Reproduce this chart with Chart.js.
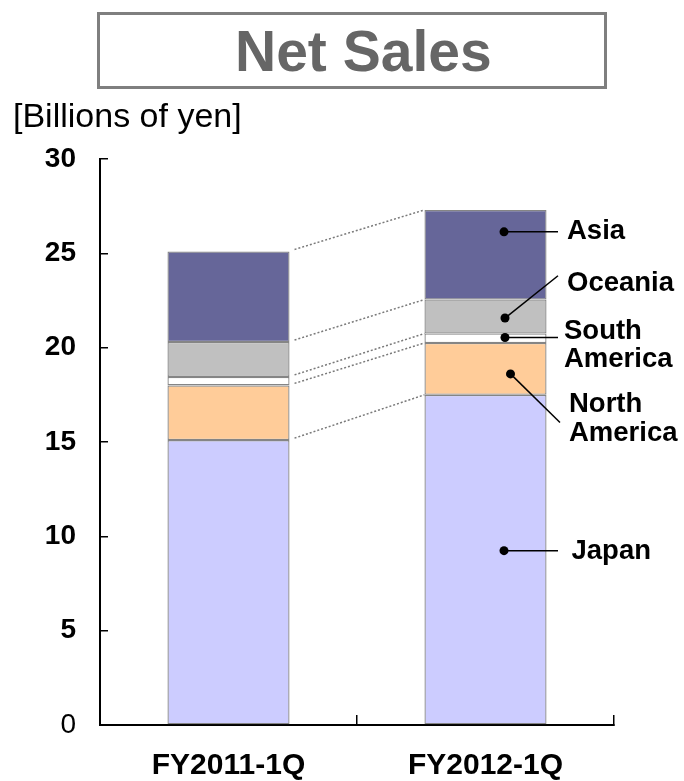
<!DOCTYPE html>
<html>
<head>
<meta charset="utf-8">
<title>Net Sales</title>
<script src="https://cdn.jsdelivr.net/npm/chart.js@4.4.1/dist/chart.umd.min.js"></script>
<style>
  html, body { margin: 0; padding: 0; background: #fff; }
  #wrap { position: relative; width: 684px; height: 781px; }
</style>
</head>
<body>
<div id="wrap"><canvas id="salesChart" width="684" height="781"></canvas></div>
<script>
// Net sales by region, billions of yen
const periods = ['FY2011-1Q', 'FY2012-1Q'];
const regions = ['Japan', 'North America', 'South America', 'Oceania', 'Asia'];
const japan = [15.1, 17.5];
const northAmerica = [2.9, 2.75];
const southAmerica = [0.45, 0.5];
const oceania = [1.85, 1.8];
const asia = [4.8, 4.75];

const FONT = '"Liberation Sans", Arial, Helvetica, sans-serif';
const colors = ['#CCCCFF', '#FFCC99', '#FFFFFF', '#C0C0C0', '#666699'];

// callouts next to the second bar: dot/end x are offsets from the bar centre,
// dot/end y are values on the axis, textDy is the first line offset in px
const callouts = [
  { lines: ['Asia'],              dot: [18.5, 26.14], end: [72.5, 26.14], textDx: 81.5, textDy: 0 },
  { lines: ['Oceania'],           dot: [19.5, 21.57], end: [72.5, 23.81], textDx: 81.5, textDy: 8 },
  { lines: ['South', 'America'],  dot: [19.5, 20.54], end: [72.5, 20.54], textDx: 78.5, textDy: -6 },
  { lines: ['North', 'America'],  dot: [25, 18.61],   end: [74.5, 16.03], textDx: 83.5, textDy: -17.7 },
  { lines: ['Japan'],             dot: [18.5, 9.24],  end: [72.5, 9.24],  textDx: 86,   textDy: 1 }
];

const seriesValues = [japan, northAmerica, southAmerica, oceania, asia];

const datasets = regions.map((name, i) => ({
  label: name,
  data: seriesValues[i],
  backgroundColor: colors[i],
  borderColor: '#858585',
  borderWidth: 1.3,
  borderSkipped: false,
  barPercentage: 0.475,
  categoryPercentage: 1
}));

// white page, boxed title and unit caption
const headerPlugin = {
  id: 'header',
  beforeDraw(chart) {
    const ctx = chart.ctx;
    ctx.save();
    ctx.fillStyle = '#fff';
    ctx.fillRect(0, 0, chart.width, chart.height);

    ctx.strokeStyle = '#7f7f7f';
    ctx.lineWidth = 3;
    ctx.strokeRect(98.5, 13.5, 507, 74);

    ctx.fillStyle = '#666666';
    ctx.font = 'bold 57px ' + FONT;
    ctx.textAlign = 'left';
    ctx.textBaseline = 'alphabetic';
    ctx.fillText('Net Sales', 235, 71);

    ctx.fillStyle = '#000';
    ctx.font = '34px ' + FONT;
    ctx.fillText('[Billions of yen]', 13, 127);
    ctx.restore();
  }
};

// dotted lines joining the segment tops of the two bars
const connectorPlugin = {
  id: 'connectors',
  afterDatasetsDraw(chart) {
    const ctx = chart.ctx;
    ctx.save();
    ctx.strokeStyle = '#7a7a7a';
    ctx.lineWidth = 1.5;
    ctx.setLineDash([2, 2]);
    chart.data.datasets.forEach((ds, i) => {
      const bars = chart.getDatasetMeta(i).data;
      const a = bars[0], b = bars[1];
      ctx.beginPath();
      ctx.moveTo(a.x + a.width / 2 + 5, a.y - 2);
      ctx.lineTo(b.x - b.width / 2, b.y);
      ctx.stroke();
    });
    ctx.restore();
  }
};

// region names with leader lines and dots
const calloutPlugin = {
  id: 'callouts',
  afterDatasetsDraw(chart) {
    const ctx = chart.ctx;
    const yScale = chart.scales.y;
    const cx = chart.getDatasetMeta(0).data[1].x;
    ctx.save();
    callouts.forEach(c => {
      const dx = cx + c.dot[0], dy = yScale.getPixelForValue(c.dot[1]);
      const ex = cx + c.end[0], ey = yScale.getPixelForValue(c.end[1]);
      ctx.strokeStyle = '#000';
      ctx.lineWidth = 1.5;
      ctx.beginPath();
      ctx.moveTo(dx, dy);
      ctx.lineTo(ex, ey);
      ctx.stroke();
      ctx.fillStyle = '#000';
      ctx.beginPath();
      ctx.arc(dx, dy, 4.5, 0, Math.PI * 2);
      ctx.fill();

      ctx.font = 'bold 27.5px ' + FONT;
      ctx.textAlign = 'left';
      ctx.textBaseline = 'middle';
      c.lines.forEach((line, k) => {
        ctx.fillText(line, cx + c.textDx, ey + c.textDy + k * 28.2);
      });
    });
    ctx.restore();
  }
};

new Chart(document.getElementById('salesChart'), {
  type: 'bar',
  data: { labels: periods, datasets: datasets },
  options: {
    responsive: false,
    devicePixelRatio: 1,
    animation: false,
    layout: { padding: { top: 159, right: 70, bottom: 0, left: 0 } },
    plugins: {
      legend: { display: false },
      tooltip: { enabled: false },
      title: { display: false }
    },
    scales: {
      x: {
        stacked: true,
        afterFit(scale) { scale.height = 56; },
        border: { display: true, color: '#000', width: 2 },
        grid: {
          offset: true,
          drawOnChartArea: false,
          drawTicks: true,
          tickLength: -10,
          color: '#000',
          lineWidth: 1.5
        },
        ticks: {
          color: '#000',
          padding: 33,
          font: { family: FONT, size: 30, weight: 'bold' }
        }
      },
      y: {
        stacked: true,
        min: 0,
        max: 30,
        afterFit(scale) { scale.width = 100; },
        border: { display: true, color: '#000', width: 2 },
        grid: {
          drawOnChartArea: false,
          drawTicks: true,
          tickLength: -8,
          color: '#000',
          lineWidth: 1.5
        },
        ticks: {
          stepSize: 5,
          color: '#000',
          padding: 32,
          font: (ctx) => ctx.tick && ctx.tick.value === 0
            ? { family: FONT, size: 28, weight: 'normal' }
            : { family: FONT, size: 28, weight: 'bold' }
        }
      }
    }
  },
  plugins: [headerPlugin, connectorPlugin, calloutPlugin]
});
</script>
</body>
</html>
